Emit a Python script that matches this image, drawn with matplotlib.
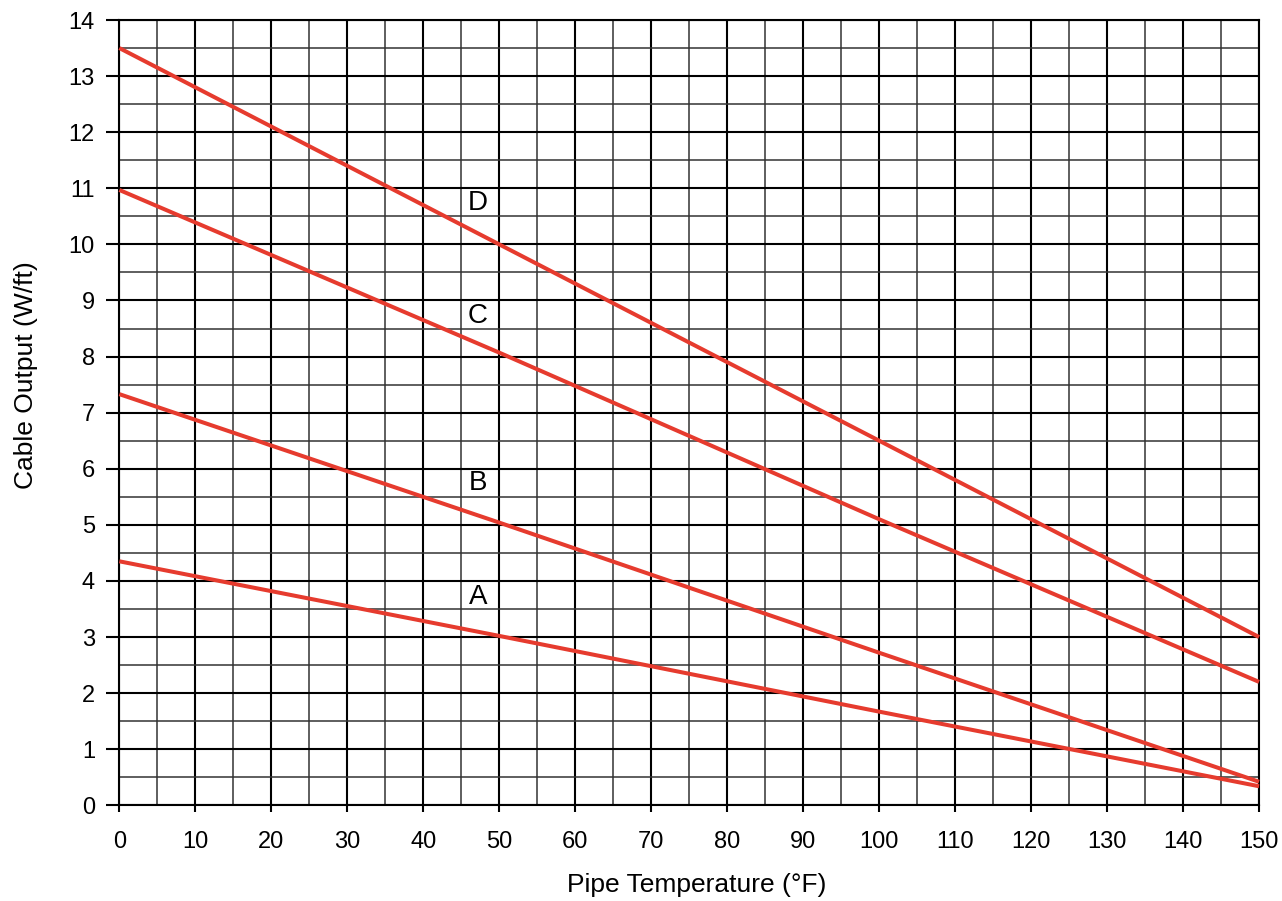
import matplotlib
matplotlib.use("Agg")
import matplotlib.pyplot as plt
from matplotlib.ticker import MultipleLocator

plt.rcParams['font.family'] = ['Liberation Sans', 'DejaVu Sans']

# Data
temps = [0, 50, 100, 150]
cable_A = [4.35, 3.02, 1.67, 0.34]
cable_B = [7.33, 5.04, 2.72, 0.42]
cable_C = [10.97, 8.07, 5.10, 2.20]
cable_D = [13.5, 10.0, 6.5, 3.0]
series = [("A", cable_A, 3.72), ("B", cable_B, 5.75), ("C", cable_C, 8.72), ("D", cable_D, 10.74)]
label_x = 47.2

x_ticks = list(range(0, 151, 10))
y_ticks = list(range(0, 15, 1))

fig = plt.figure(figsize=(12.82, 9.01), dpi=100)
ax = fig.add_axes([0.0931, 0.1062, 0.889, 0.8716])

ax.set_xlim(0, 150)
ax.set_ylim(0, 14)
ax.set_xticks(x_ticks)
ax.set_yticks(y_ticks)
ax.xaxis.set_minor_locator(MultipleLocator(5))
ax.yaxis.set_minor_locator(MultipleLocator(0.5))

ax.grid(True, which='major', color='black', linewidth=1.5, zorder=1)
ax.grid(True, which='minor', color='#333333', linewidth=1.1, zorder=1)
ax.set_axisbelow(True)

red = '#e63b2e'
for name, vals, ly in series:
    ax.plot(temps, vals, color=red, linewidth=2.9, solid_capstyle='butt', zorder=3, clip_on=False)
    ax.text(label_x, ly, name, fontsize=20, ha='center', va='center', color='black', zorder=4)

for s in ax.spines.values():
    s.set_linewidth(1.5)
    s.set_color('black')

ax.tick_params(axis='x', which='major', direction='out', length=5, width=1.5,
               labelsize=17, pad=13.2, color='black')
ax.tick_params(axis='y', which='major', direction='out', length=9.4, width=1.5,
               labelsize=17, pad=8.2, color='black')
ax.tick_params(axis='both', which='minor', length=0)

ax.set_xlabel('Pipe Temperature (°F)', fontsize=19, labelpad=14.5, x=0.507)
ax.set_ylabel('Cable Output (W/ft)', fontsize=19, labelpad=22, y=0.548)

fig.savefig('out.png', dpi=100)
